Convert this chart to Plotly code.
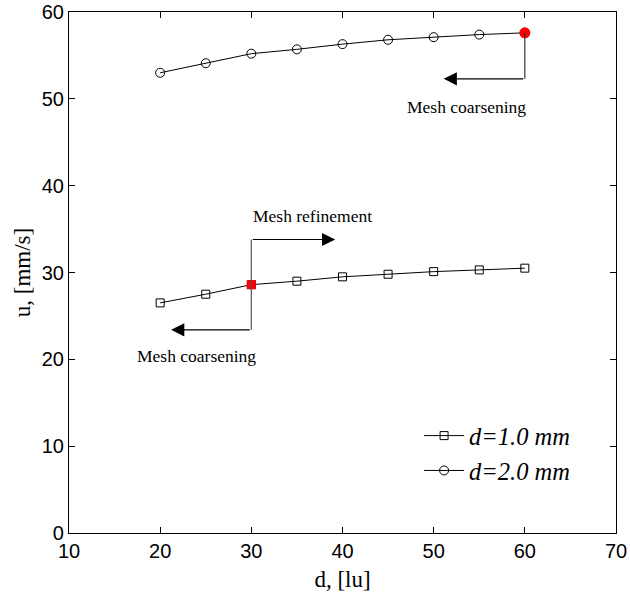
import plotly.graph_objects as go

d_vals = [20, 25, 30, 35, 40, 45, 50, 55, 60]
u_d1 = [26.5, 27.5, 28.6, 29.0, 29.5, 29.8, 30.1, 30.3, 30.5]
u_d2 = [53.0, 54.1, 55.2, 55.7, 56.3, 56.8, 57.1, 57.4, 57.6]
x_ticks = [10, 20, 30, 40, 50, 60, 70]
y_ticks = [0, 10, 20, 30, 40, 50, 60]

# highlighted points
hl1 = (30, 28.6)
hl2 = (60, 57.6)

fig = go.Figure()
fig.add_trace(go.Scatter(x=d_vals, y=u_d1, mode="lines+markers", name="<i>d=1.0 mm</i>",
                         line=dict(color="black", width=1),
                         marker=dict(symbol="square-open", size=8, color="black", line=dict(width=1))))
fig.add_trace(go.Scatter(x=d_vals, y=u_d2, mode="lines+markers", name="<i>d=2.0 mm</i>",
                         line=dict(color="black", width=1),
                         marker=dict(symbol="circle-open", size=9, color="black", line=dict(width=1))))
fig.add_trace(go.Scatter(x=[hl1[0]], y=[hl1[1]], mode="markers", showlegend=False,
                         marker=dict(symbol="square", size=9, color="red")))
fig.add_trace(go.Scatter(x=[hl2[0]], y=[hl2[1]], mode="markers", showlegend=False,
                         marker=dict(symbol="circle", size=11, color="red")))

# bent arrows: (start point, corner y, arrow end x, line colour)
arrows = [
    (hl1, 33.8, 39.2, "#555555"),
    (hl1, 23.4, 21.2, "#555555"),
    (hl2, 52.3, 51.1, "#333333"),
]
for (x0, y0), yc, xe, col in arrows:
    fig.add_shape(type="line", x0=x0, y0=y0, x1=x0, y1=yc, xref="x", yref="y",
                  line=dict(color=col, width=1.2))
    fig.add_annotation(x=xe, y=yc, ax=x0, ay=yc, xref="x", yref="y", axref="x", ayref="y",
                       showarrow=True, arrowhead=2, arrowsize=2.2, arrowwidth=1.2,
                       arrowcolor="black", text="")

labels = [("Mesh refinement", 36.7, 36.5), ("Mesh coarsening", 24.0, 20.4),
          ("Mesh coarsening", 53.6, 49.1)]
for t, x, y in labels:
    fig.add_annotation(x=x, y=y, xref="x", yref="y", text=t, showarrow=False,
                       font=dict(family="Liberation Serif", size=17.5, color="black"))

axis_common = dict(showgrid=False, zeroline=False, showline=True, linecolor="black",
                   linewidth=1.2, mirror="ticks", ticks="inside", ticklen=6,
                   tickcolor="black", automargin=False,
                   tickfont=dict(family="Liberation Sans", size=20, color="black"))
fig.update_xaxes(range=[10, 70], tickvals=x_ticks,
                 title=dict(text="d, [lu]", font=dict(family="Liberation Serif", size=23, color="black")),
                 **axis_common)
fig.update_yaxes(range=[0, 60], tickvals=y_ticks,
                 title=dict(text="u, [mm/s]", font=dict(family="Liberation Serif", size=23, color="black"),
                            standoff=4),
                 **axis_common)

fig.update_layout(width=630, height=592, margin=dict(l=69, r=14, t=12, b=59),
                  plot_bgcolor="white", paper_bgcolor="white",
                  legend=dict(x=0.64, y=0.23, xanchor="left", yanchor="top",
                              bgcolor="rgba(0,0,0,0)",
                              font=dict(family="Liberation Serif", size=24.5, color="black"),
                              itemwidth=40, tracegroupgap=0),
                  )
fig.write_html("out.html", config={"displayModeBar": False},
               post_script="document.body.style.margin='0';document.body.style.overflow='hidden';")
